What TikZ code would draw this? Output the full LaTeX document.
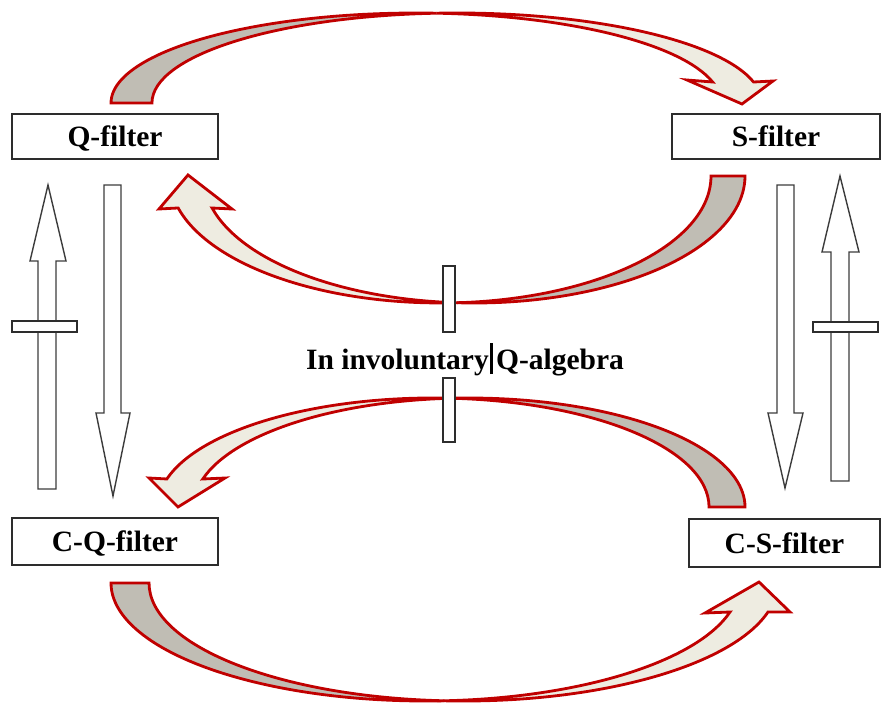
\documentclass[tikz,border=0pt]{standalone}
\usepackage{fontspec}
\setmainfont{Liberation Serif}
\definecolor{arrred}{RGB}{192,0,0}
\definecolor{arrgray}{RGB}{192,189,180}
\definecolor{arrbeige}{RGB}{238,236,225}
\definecolor{boxline}{RGB}{45,45,45}
\definecolor{blockline}{RGB}{60,60,60}
\begin{document}
\begin{tikzpicture}[x=1pt,y=1pt,
  backpart/.style={fill=arrgray, draw=arrred, line width=2.8pt, line join=miter},
  frontpart/.style={fill=arrbeige, draw=arrred, line width=2.8pt, line join=miter},
  blockarrow/.style={fill=white, draw=blockline, line width=1.4pt, line join=miter},
  barbox/.style={fill=white, draw=boxline, line width=1.4pt},
  filterbox/.style={draw=boxline, line width=1.5pt, fill=white, inner sep=0pt,
    text depth=0pt, font=\fontsize{29.5}{34}\selectfont\bfseries},
  lbl/.style={inner sep=0pt, font=\fontsize{29.5}{34}\selectfont\bfseries}]
\useasboundingbox (0,0) rectangle (883,-704);

% ---------- filter boxes ----------
\node[filterbox, minimum width=206pt, minimum height=45pt] (qf)  at (115,-136.5) {Q-filter};
\node[filterbox, minimum width=208pt, minimum height=45pt] (sf)  at (776,-136.5) {S-filter};
\node[filterbox, minimum width=206pt, minimum height=47pt] (cqf) at (115,-541.5) {C-Q-filter};
\node[filterbox, minimum width=191pt, minimum height=48pt] (csf) at (784.5,-543) {C-S-filter};

% ---------- top arrow: Q-filter -> S-filter ----------
\path[backpart] (111,-103)
  arc[start angle=180, end angle=86.15, x radius=305pt, y radius=90pt]
  arc[start angle=93.85, end angle=180, x radius=305pt, y radius=90pt] -- cycle;
\path[frontpart] (436.5,-13.2)
  arc[start angle=93.85, end angle=13.49, x radius=305pt, y radius=90pt]
  -- (773,-81) -- (742,-104) -- (687,-80) -- (712.6,-82)
  arc[start angle=13.49, end angle=86.15, x radius=305pt, y radius=90pt] -- cycle;

% ---------- upper middle arrow: S-filter -> Q-filter ----------
\path[backpart] (745,-176)
  arc[start angle=0, end angle=-93.6, x radius=270.8pt, y radius=127pt]
  arc[start angle=-86.4, end angle=0, x radius=270.8pt, y radius=127pt] -- cycle;
\path[frontpart] (457.2,-302.7)
  arc[start angle=-86.4, end angle=-165.4, x radius=270.8pt, y radius=127pt]
  -- (159,-209) -- (188,-175) -- (232,-209) -- (212.1,-208)
  arc[start angle=-165.4, end angle=-93.6, x radius=270.8pt, y radius=127pt] -- cycle;

% ---------- lower middle arrow: C-S-filter -> C-Q-filter ----------
\path[backpart] (745,-507)
  arc[start angle=0, end angle=93.74, x radius=275.7pt, y radius=109pt]
  arc[start angle=86.26, end angle=0, x radius=275.7pt, y radius=109pt] -- cycle;
\path[frontpart] (451.3,-398.2)
  arc[start angle=86.26, end angle=165.12, x radius=275.7pt, y radius=109pt]
  -- (149,-478) -- (178,-507) -- (225,-478) -- (202.8,-479)
  arc[start angle=165.12, end angle=93.74, x radius=275.7pt, y radius=109pt] -- cycle;

% ---------- bottom arrow: C-Q-filter -> C-S-filter ----------
\path[backpart] (111,-583)
  arc[start angle=180, end angle=273.47, x radius=314.3pt, y radius=118pt]
  arc[start angle=266.53, end angle=180, x radius=314.3pt, y radius=118pt] -- cycle;
\path[frontpart] (444.3,-700.8)
  arc[start angle=266.53, end angle=345.77, x radius=314.3pt, y radius=118pt]
  -- (790,-612) -- (759,-582) -- (705,-613) -- (730,-612)
  arc[start angle=345.77, end angle=273.47, x radius=314.3pt, y radius=118pt] -- cycle;

% ---------- vertical block arrows, left ----------
\path[blockarrow] (38,-489) -- (38,-261) -- (30,-261) -- (48,-185) -- (66,-261)
  -- (56,-261) -- (56,-489) -- cycle;
\path[blockarrow] (104,-185) -- (121,-185) -- (121,-413) -- (130,-413) -- (113,-496)
  -- (96,-413) -- (104,-413) -- cycle;
\path[barbox] (12,-321) rectangle (77,-332);

% ---------- vertical block arrows, right ----------
\path[blockarrow] (777,-185) -- (794,-185) -- (794,-413) -- (803,-413) -- (785,-488)
  -- (768,-413) -- (777,-413) -- cycle;
\path[blockarrow] (831,-481) -- (831,-252) -- (822,-252) -- (840,-176) -- (859,-252)
  -- (849,-252) -- (849,-481) -- cycle;
\path[barbox] (813,-322) rectangle (878,-332);

% ---------- centre bars and label ----------
\path[barbox] (443,-266) rectangle (455,-332);
\path[barbox] (443,-378) rectangle (455,-442);
\node[lbl, anchor=base] (alg) at (465,-369)
  {In involuntary\hspace{1.5pt}\rule[-5pt]{2.8pt}{31pt}\hspace{3pt}Q-algebra};
\end{tikzpicture}
\end{document}
